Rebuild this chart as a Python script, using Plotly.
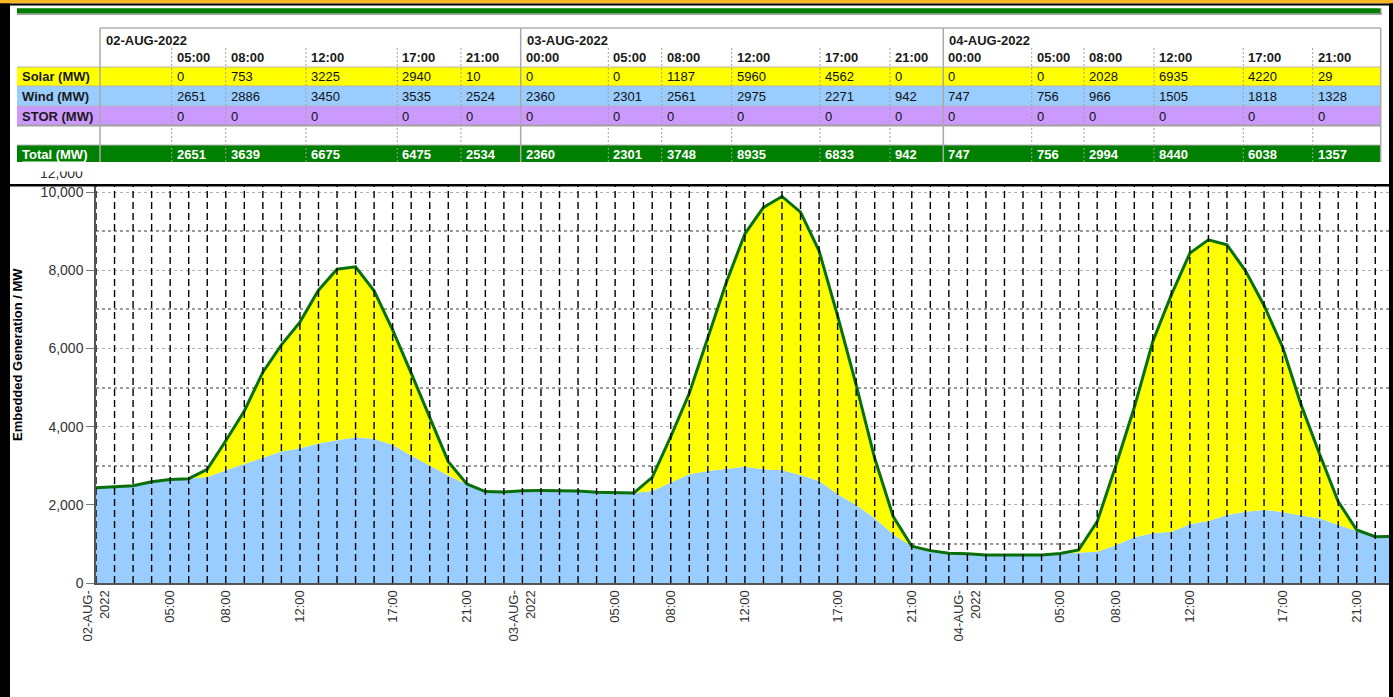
import plotly.graph_objects as go
import pandas as pd

# ---------------- data ----------------
hours = pd.date_range("2022-08-02 01:00", periods=71, freq="h")

wind = [2440, 2460, 2490, 2590, 2651, 2670, 2714, 2886, 3038, 3209,
        3362, 3450, 3567, 3652, 3729, 3686, 3535, 3260, 3004, 2748,
        2524, 2338, 2330, 2360, 2364, 2355, 2355, 2321, 2301, 2300,
        2355, 2561, 2782, 2867, 2927, 2975, 2910, 2884, 2765, 2611,
        2271, 1997, 1656, 1246, 942, 828, 759, 747, 717, 717,
        717, 717, 756, 776, 802, 966, 1169, 1272, 1314, 1505,
        1587, 1741, 1826, 1869, 1818, 1724, 1656, 1485, 1328, 1186,
        1190]

solar = [0, 0, 0, 0, 0, 0, 196, 753, 1365, 2184,
         2731, 3225, 3925, 4378, 4361, 3789, 2940, 2108, 1212, 358,
         10, 0, 0, 0, 0, 0, 0, 0, 0, 0,
         350, 1187, 2073, 3439, 4770, 5960, 6698, 7006, 6724, 5888,
         4562, 3072, 1535, 452, 0, 0, 0, 0, 0, 0,
         0, 0, 0, 69, 768, 2028, 3320, 4906, 6059, 6935,
         7194, 6912, 6161, 5231, 4220, 2833, 1638, 597, 29, 0,
         0]

stor = [0] * 71

tick_times = ["2022-08-02 01:00", "2022-08-02 05:00", "2022-08-02 08:00",
              "2022-08-02 12:00", "2022-08-02 17:00", "2022-08-02 21:00",
              "2022-08-03 00:00", "2022-08-03 05:00", "2022-08-03 08:00",
              "2022-08-03 12:00", "2022-08-03 17:00", "2022-08-03 21:00",
              "2022-08-04 00:00", "2022-08-04 05:00", "2022-08-04 08:00",
              "2022-08-04 12:00", "2022-08-04 17:00", "2022-08-04 21:00"]
tick_text = ["02-AUG-<br>2022", "05:00", "08:00", "12:00", "17:00", "21:00",
             "03-AUG-<br>2022", "05:00", "08:00", "12:00", "17:00", "21:00",
             "04-AUG-<br>2022", "05:00", "08:00", "12:00", "17:00", "21:00"]
y_ticks = [0, 2000, 4000, 6000, 8000, 10000]
y_minor = [1000, 3000, 5000, 7000, 9000, 11000]

# table
tbl_dates = ["02-AUG-2022", "03-AUG-2022", "04-AUG-2022"]
tbl_times = ["05:00", "08:00", "12:00", "17:00", "21:00",
             "00:00", "05:00", "08:00", "12:00", "17:00", "21:00",
             "00:00", "05:00", "08:00", "12:00", "17:00", "21:00"]
tbl_solar = [0, 753, 3225, 2940, 10, 0, 0, 1187, 5960, 4562, 0, 0, 0, 2028, 6935, 4220, 29]
tbl_wind = [2651, 2886, 3450, 3535, 2524, 2360, 2301, 2561, 2975, 2271, 942, 747, 756, 966, 1505, 1818, 1328]
tbl_stor = [0] * 17
tbl_total = [2651, 3639, 6675, 6475, 2534, 2360, 2301, 3748, 8935, 6833, 942, 747, 756, 2994, 8440, 6038, 1357]
row_labels = ["Solar (MW)", "Wind (MW)", "STOR (MW)", "Total (MW)"]

# ---------------- layout constants (pixels) ----------------
W_FIG, H_FIG = 1393, 697
L, R, T, B = 96, 4, 114, 114
PW, PH = W_FIG - L - R, H_FIG - T - B

def X(px):
    return (px - L) / PW

def Y(py):
    return (T + PH - py) / PH

col_x = [171.7, 225.7, 306, 397.3, 461,
         520.7, 608.3, 661.7, 731.7, 820, 890,
         943.3, 1031.7, 1084, 1154, 1243.3, 1312.7]
day_x = [100, 520.7, 943.3]
tbl_right = 1380.7
row_y = [77, 96.5, 116, 154]
FONT = "Liberation Sans, Arial, sans-serif"

total = [w + s + st for w, s, st in zip(wind, solar, stor)]

fig = go.Figure()
fig.add_trace(go.Scatter(x=hours, y=wind, mode="lines", line=dict(width=0, color="#99CCFF"),
                         fill="tozeroy", fillcolor="#99CCFF", hoverinfo="skip"))
fig.add_trace(go.Scatter(x=hours, y=total, mode="lines", line=dict(width=3, color="#087008"),
                         fill="tonexty", fillcolor="#FFFF00", hoverinfo="skip"))

shapes = []
# vertical dashed hourly lines above the fills
for h in hours:
    shapes.append(dict(type="line", xref="x", yref="paper", x0=h, x1=h, y0=0, y1=1,
                       line=dict(color="black", width=1.4, dash="7px,4px"), layer="above"))

def rect(x0, y0, x1, y1, color):
    return dict(type="rect", xref="paper", yref="paper", x0=X(x0), x1=X(x1), y0=Y(y1), y1=Y(y0),
                fillcolor=color, line=dict(width=0), layer="above")

def line(x0, y0, x1, y1, color, width=1, dash="solid"):
    return dict(type="line", xref="paper", yref="paper", x0=X(x0), x1=X(x1), y0=Y(y0), y1=Y(y1),
                line=dict(color=color, width=width, dash=dash), layer="above")

# white header area covering top of plot
shapes.append(rect(0, 0, W_FIG, 185, "white"))
# top bands
shapes.append(rect(0, 0, W_FIG, 3.5, "#F8B825"))
shapes.append(rect(0, 3.5, W_FIG, 5.5, "black"))
shapes.append(rect(17, 13.3, 1381.5, 14.8, "#8a8a8a"))
shapes.append(rect(1380, 8.3, 1381.5, 14.8, "#8a8a8a"))
shapes.append(rect(17, 8.3, 1380, 13.3, "#008000"))
# table rows
shapes.append(rect(17, 67, tbl_right, 86, "#FFFF00"))
shapes.append(rect(17, 86, tbl_right, 106, "#99CCFF"))
shapes.append(rect(17, 106, tbl_right, 125, "#CC99FF"))
shapes.append(rect(17, 145, tbl_right, 162, "#008000"))
# table lines
shapes.append(line(100, 28, tbl_right, 28, "#b0b0b0", 1.5))
for yy in [67, 86, 106, 145]:
    shapes.append(line(17, yy, tbl_right, yy, "#b4b4b4", 1))
shapes.append(line(17, 125.5, tbl_right, 125.5, "#a0a0a0", 2))
for xx in day_x + [tbl_right]:
    shapes.append(line(xx, 28, xx, 162, "#a8a8a8", 1.5))
for xx in col_x:
    if xx in day_x:
        continue
    shapes.append(line(xx, 48, xx, 162, "#a0a0a0", 1, "2px,2px"))
# frame borders
shapes.append(rect(0, 3.5, 10, H_FIG, "black"))
shapes.append(rect(1389, 3.5, W_FIG, H_FIG, "black"))
shapes.append(rect(10, 184, 1389, 186.5, "black"))

annotations = []

def txt(s, x, y, size=13, bold=False, color="#111", xanchor="left"):
    annotations.append(dict(text=("<b>%s</b>" % s) if bold else s, x=X(x), y=Y(y),
                            xref="paper", yref="paper", xanchor=xanchor, yanchor="middle",
                            showarrow=False, font=dict(family=FONT, size=size, color=color)))

for d, xx in zip(tbl_dates, day_x):
    txt(d, xx + 4, 40, bold=True, color="#1a1a1a")
for t, xx in zip(tbl_times, col_x):
    txt(t, xx + 3, 57.5, bold=True, color="#1a1a1a")
for vals, yy in zip([tbl_solar, tbl_wind, tbl_stor], row_y[:3]):
    for v, xx in zip(vals, col_x):
        txt(str(v), xx + 3, yy)
for v, xx in zip(tbl_total, col_x):
    txt(str(v), xx + 3, row_y[3], bold=True, color="white")
for lab, yy in zip(row_labels[:3], row_y[:3]):
    txt(lab, 20, yy, bold=True, color="#1a1a1a")
txt(row_labels[3], 20, row_y[3], bold=True, color="white")

# partially hidden top axis label
annotations.append(dict(text="12,000", x=X(85), y=Y(173), xref="paper", yref="paper",
                        xanchor="right", yanchor="middle", showarrow=False,
                        font=dict(family=FONT, size=14, color="#333")))
annotations.append(dict(text=" ", x=X(86), y=Y(166.5), xref="paper", yref="paper",
                        xanchor="right", yanchor="middle", showarrow=False, width=60, height=7,
                        bgcolor="white", borderpad=1, font=dict(size=6)))

# y-axis title
annotations.append(dict(text="<b>Embedded Generation / MW</b>", x=X(17), y=Y(355),
                        xref="paper", yref="paper", xanchor="center", yanchor="middle",
                        textangle=-90, showarrow=False,
                        font=dict(family=FONT, size=13, color="black")))

x_end = hours[0] + pd.Timedelta(hours=69.74)

fig.update_layout(
    width=W_FIG, height=H_FIG,
    margin=dict(l=L, r=R, t=T, b=B),
    paper_bgcolor="white", plot_bgcolor="white",
    showlegend=False,
    font=dict(family=FONT, color="#333"),
    shapes=shapes, annotations=annotations,
    xaxis=dict(type="date", range=[hours[0], x_end], tickmode="array",
               tickvals=tick_times, ticktext=tick_text, tickangle=-90,
               tickfont=dict(family=FONT, size=13, color="#333"),
               showgrid=False, zeroline=False, showline=True, linecolor="#555",
               linewidth=2, ticks=""),
    yaxis=dict(range=[0, 12000], tickmode="array", tickvals=y_ticks,
               tickformat=",d", tickfont=dict(family=FONT, size=14, color="#333"),
               showgrid=True, gridcolor="#b0b0b0", griddash="dot", gridwidth=1,
               minor=dict(tickmode="array", tickvals=y_minor,
                          showgrid=True, gridcolor="#9a9a9a", gridwidth=1.5, ticks=""),
               zeroline=False, showline=True, linecolor="#555", linewidth=1.5,
               ticks="outside", ticklen=8, tickcolor="#777", tickwidth=1),
)

fig.write_html("out.html", config={"displayModeBar": False},
               post_script="document.body.style.margin='0px';document.body.style.overflow='hidden';")
